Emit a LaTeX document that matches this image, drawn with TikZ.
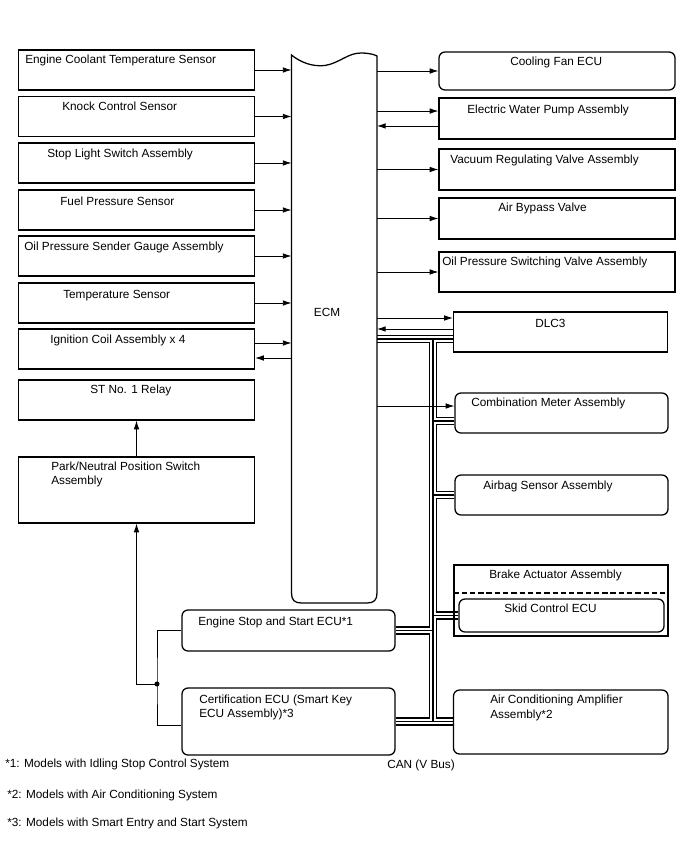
\documentclass[tikz,border=0pt]{standalone}
\usepackage{fontspec}
\setmainfont{Liberation Sans}
\usetikzlibrary{arrows.meta,fit,calc}
\pgfdeclarelayer{bg}
\pgfsetlayers{bg,main}
\newcommand\bx[6][box]{\node[#1, fit={(#3,#4)(#5,#6)}] (#2) {};}
\newcommand\lb[4]{\node[lbl] (#1) at (#2,#3) {#4};}
\begin{document}
\begin{tikzpicture}[x=0.75pt,y=-0.75pt,
  box/.style={draw, line width=0.95pt, inner sep=0pt},
  rbox/.style={box, rounded corners=4.5pt},
  lbl/.style={anchor=base west, inner sep=0pt, font=\fontsize{8.85pt}{10pt}\selectfont},
  arr/.style={-{Latex[length=6.5pt,width=4.2pt]}, line width=0.65pt},
  thinln/.style={line width=0.65pt}]
\useasboundingbox (0,0) rectangle (688,852);

% left column
\bx{b1}{18.5}{50}{254.5}{90}
\bx{b2}{18.5}{96.5}{254.5}{136.5}
\bx{b3}{18.5}{143}{254.5}{183}
\bx{b4}{18.5}{190}{254.5}{230}
\bx{b5}{18.5}{236}{254.5}{276}
\bx{b6}{18.5}{283}{254.5}{323}
\bx{b7}{18.5}{329}{254.5}{369}
\bx{rel}{18.5}{380}{254.5}{420}
\bx{pn}{18.5}{457}{254.5}{523}

\lb{t1}{25}{64}{Engine Coolant Temperature Sensor}
\lb{t2}{62}{111}{Knock Control Sensor}
\lb{t3}{47}{158}{Stop Light Switch Assembly}
\lb{t4}{60}{206}{Fuel Pressure Sensor}
\lb{t5}{24}{250}{Oil Pressure Sender Gauge Assembly}
\lb{t6}{63}{298}{Temperature Sensor}
\lb{t7}{50}{343}{Ignition Coil Assembly x 4}
\lb{t8}{90}{393}{ST No. 1 Relay}
\lb{t9a}{51}{470}{Park/Neutral Position Switch}
\lb{t9b}{51}{484}{Assembly}

% ECM
\coordinate (ecmW) at (291.5,0);
\coordinate (ecmE) at (377,0);
\draw[box] (291.5,55) .. controls (300,62) and (312,67) .. (325,65.5)
  .. controls (340,63) and (348,52.5) .. (362,53)
  .. controls (370,53.3) and (374,54.5) .. (377,56)
  -- (377,593) .. controls (377,600) and (374,603) .. (367,603)
  -- (301.5,603) .. controls (294.5,603) and (291.5,600) .. (291.5,593) -- cycle;
\node[lbl, anchor=base] (ecm) at (327,316) {ECM};

% right column
\bx[rbox]{c1}{439}{52}{675}{90}
\bx{c2}{439}{98}{675}{139}
\bx{c3}{439}{149}{675}{190}
\bx{c4}{439}{198}{675}{239}
\bx{c5}{439}{252}{675}{292}
\bx{dlc}{453.5}{312}{667.5}{352}
\bx[rbox]{cmb}{455}{393}{668}{433}
\bx[rbox]{air}{455}{475}{668}{515}
\bx{brk}{454}{565}{668}{636}
\bx[rbox]{skd}{459}{599}{664}{632}
\bx[rbox]{acm}{453.5}{690}{668}{754}
\bx[rbox]{ess}{182}{610}{395}{651}
\bx[rbox]{cer}{182}{688}{395}{755}
\draw[line width=0.95pt, dash pattern=on 4pt off 2.2pt] (brk.west |- 0,593) coordinate (dsh1) -- (dsh1 -| brk.east);

\lb{u1}{510}{66}{Cooling Fan ECU}
\lb{u2}{467}{114}{Electric Water Pump Assembly}
\lb{u3}{450}{164}{Vacuum Regulating Valve Assembly}
\lb{u4}{498}{212}{Air Bypass Valve}
\lb{u5}{442}{265}{Oil Pressure Switching Valve Assembly}
\lb{u6}{535}{327}{DLC3}
\lb{u7}{471}{406}{Combination Meter Assembly}
\lb{u8}{483}{489}{Airbag Sensor Assembly}
\lb{u9}{489}{578}{Brake Actuator Assembly}
\lb{u10}{504}{612}{Skid Control ECU}
\lb{u11a}{490}{703}{Air Conditioning Amplifier}
\lb{u11b}{490}{718}{Assembly*2}
\lb{u12}{198}{625}{Engine Stop and Start ECU*1}
\lb{u13a}{199}{703}{Certification ECU (Smart Key}
\lb{u13b}{199}{717}{ECU Assembly)*3}

\lb{f1}{5}{767}{*1: Models with Idling Stop Control System}
\lb{f2}{7}{798}{*2: Models with Air Conditioning System}
\lb{f3}{7}{826}{*3: Models with Smart Entry and Start System}
\lb{can}{387}{768}{CAN (V Bus)}

% arrows left -> ECM
\foreach \b in {b1,b2,b3,b4,b5,b6}
  \draw[arr] (\b.east) -- (\b.east -| ecmW);
\draw[arr] ([yshift=4.5pt]b7.east) -- ([yshift=4.5pt]b7.east -| ecmW);
\draw[arr] ([yshift=-6.75pt]b7.east -| ecmW) -- ([yshift=-6.75pt]b7.east);

% arrows ECM -> right
\foreach \c in {c1,c3,c4,c5}
  \draw[arr] (\c.west -| ecmE) -- (\c.west);
\draw[arr] ([yshift=5.6pt]c2.west -| ecmE) -- ([yshift=5.6pt]c2.west);
\draw[arr] ([yshift=-5.6pt]c2.west) -- ([yshift=-5.6pt]c2.west -| ecmE);
\draw[arr] ([yshift=10.5pt]dlc.west -| ecmE) -- ([yshift=10.5pt]dlc.west);
\draw[arr] ([yshift=2.25pt]dlc.west) -- ([yshift=2.25pt]dlc.west -| ecmE);
\draw[arr] ([yshift=5.25pt]cmb.west -| ecmE) -- ([yshift=5.25pt]cmb.west);

% relay / PN / ECUs
\draw[arr] (pn.north) -- (rel.south);
\coordinate (jn) at (157,684);
\draw[thinln] (ess.west) -| (jn) |- ([yshift=-2.6pt]cer.west);
\draw[arr] (jn) -| (pn.south);
\fill (jn) circle (1.9pt);

% CAN bus
\coordinate (trT) at (433,339);
\coordinate (trB) at (433,721.5);
\newcommand\busnet[1]{%
  \draw[#1] ([yshift=-5.25pt]dlc.west) -- ([yshift=-5.25pt]dlc.west -| ecmE);
  \draw[#1] (trT) -- (trB);
  \draw[#1] ([yshift=-6pt]cmb.west) -- ([yshift=-6pt]cmb.west -| trT);
  \draw[#1] (air.west) -- (air.west -| trT);
  \draw[#1] (skd.west) -- (skd.west -| trT);
  \draw[#1] (ess.east) -- (ess.east -| trT);
  \draw[#1] (cer.east) -- (cer.east -| acm.west);
}
\begin{pgfonlayer}{bg}
  \busnet{line width=6.2pt, black}
  \busnet{line width=3.8pt, white}
  \busnet{line width=0.85pt, black}
\end{pgfonlayer}
\end{tikzpicture}
\end{document}
